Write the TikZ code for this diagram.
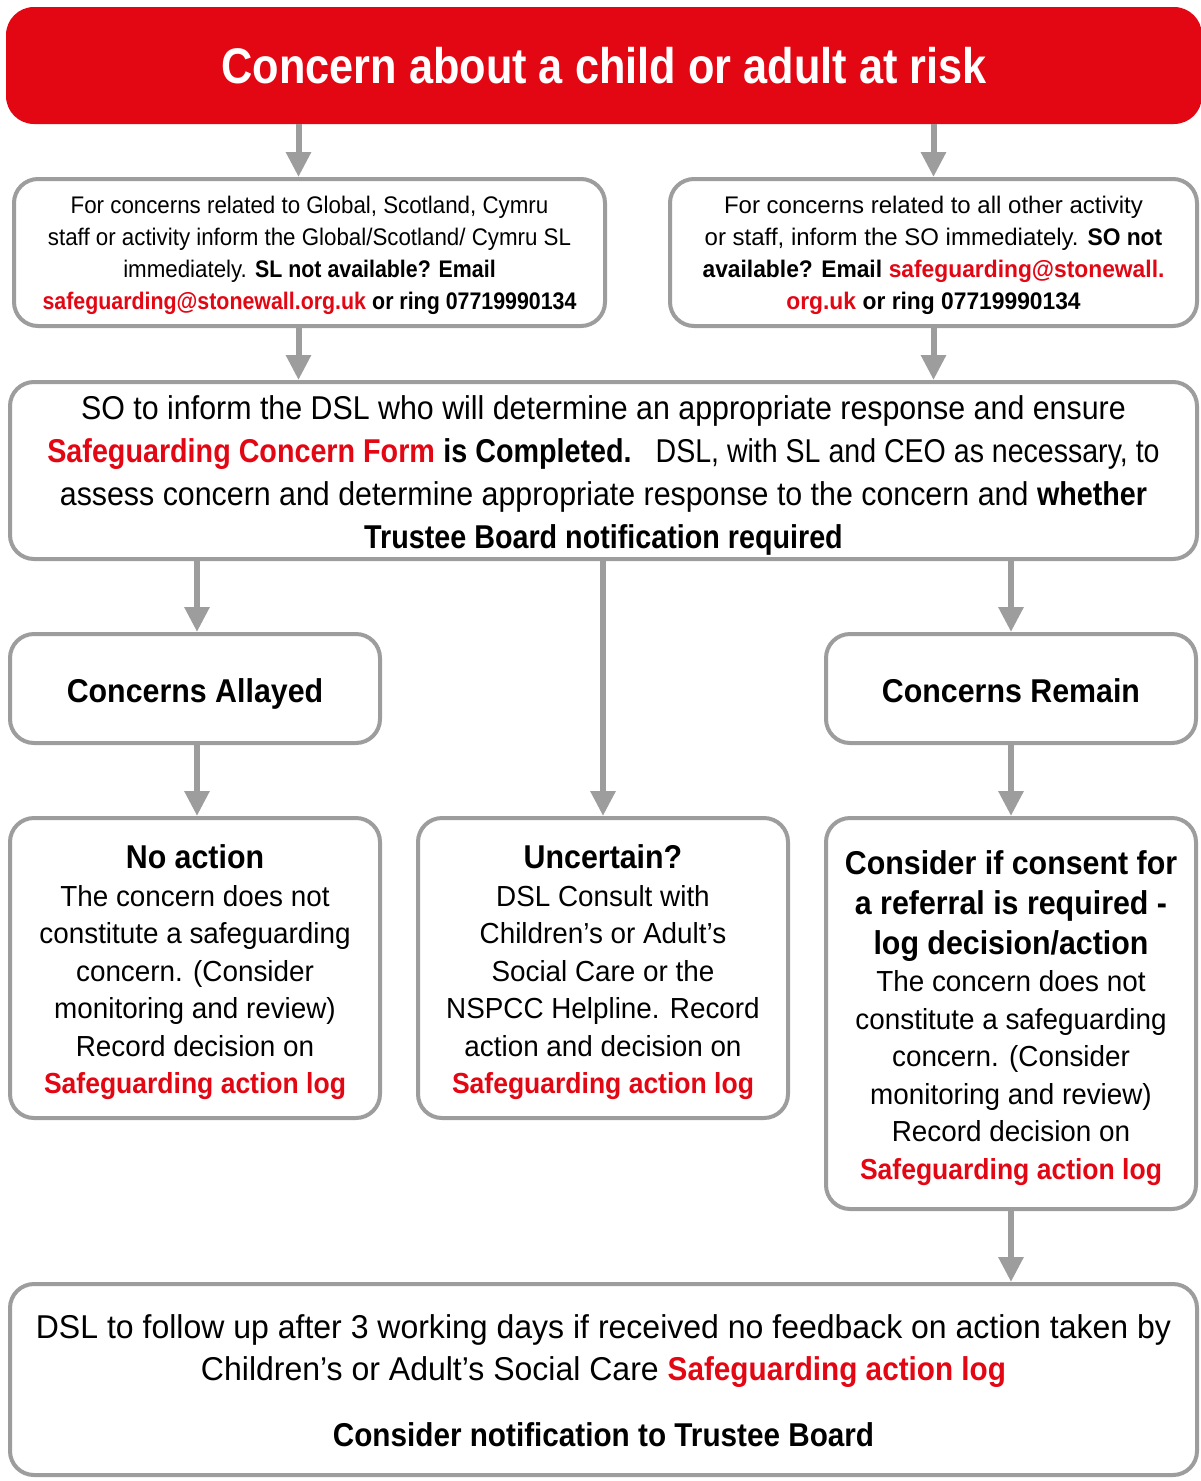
\documentclass[tikz,border=0pt]{standalone}
\usepackage{fontspec}
\setmainfont{Liberation Sans}
\newfontfamily\tT{Liberation Sans Bold}[FakeStretch=0.866]
\newfontfamily\rL{Liberation Sans}[FakeStretch=0.93]
\newfontfamily\bL{Liberation Sans Bold}[FakeStretch=0.89]
\newfontfamily\rR{Liberation Sans}[FakeStretch=1.0]
\newfontfamily\bR{Liberation Sans Bold}[FakeStretch=0.95]
\newfontfamily\rD{Liberation Sans}[FakeStretch=0.92]
\newfontfamily\rDn{Liberation Sans}[FakeStretch=0.865]
\newfontfamily\bD{Liberation Sans Bold}[FakeStretch=0.87]
\newfontfamily\rM{Liberation Sans}[FakeStretch=0.96]
\newfontfamily\bM{Liberation Sans Bold}[FakeStretch=0.914]
\newfontfamily\bH{Liberation Sans Bold}[FakeStretch=0.92]
\newfontfamily\rB{Liberation Sans}[FakeStretch=0.97]
\newfontfamily\bB{Liberation Sans Bold}[FakeStretch=0.90]
\usetikzlibrary{arrows.meta}
\definecolor{sred}{HTML}{E30613}
\definecolor{sgray}{HTML}{9D9D9D}
\begin{document}
\begin{tikzpicture}[x=1pt,y=-1pt,
  box/.style={draw=sgray, line width=4pt, rounded corners=24pt, fill=white, inner sep=0pt},
  txt/.style={align=center, inner sep=0pt},
  arr/.style={draw=sgray, line width=6pt, -{Triangle[width=24pt,length=25pt]}},
  fontL/.style={font=\rL\fontsize{24}{32}\selectfont},
  fontR/.style={font=\rR\fontsize{24}{32}\selectfont},
  fontD/.style={font=\rD\fontsize{33}{43}\selectfont},
  fontM/.style={font=\rM\fontsize{29}{37.5}\selectfont},
  fontB/.style={font=\rB\fontsize{33}{42}\selectfont}]
\useasboundingbox (0,0) rectangle (1201,1481);

% ---------- boxes ----------
\node[fill=sred, rounded corners=28pt, inner sep=0pt, minimum width=1196pt, minimum height=117pt,
  text=white, font=\tT\fontsize{50}{60}\selectfont] (title) at (604,65.5)
  {Concern about a child or adult at risk};
\node[box, minimum width=591pt, minimum height=147pt] (l1) at (309.5,252.5) {};
\node[box, minimum width=527pt, minimum height=147pt] (r1) at (933.5,252.5) {};
\node[box, minimum width=1187pt, minimum height=177pt] (dsl) at (603.5,470.5) {};
\node[box, minimum width=370pt, minimum height=109pt] (allay) at (195,688.5) {};
\node[box, minimum width=370pt, minimum height=109pt] (remain) at (1011,688.5) {};
\node[box, minimum width=370pt, minimum height=300pt] (noact) at (195,968) {};
\node[box, minimum width=370pt, minimum height=300pt] (unc) at (603,968) {};
\node[box, minimum width=370pt, minimum height=391pt] (cons) at (1011,1013.5) {};
\node[box, minimum width=1187pt, minimum height=191pt] (bot) at (603.5,1379.5) {};

% ---------- texts ----------
\node[txt, fontL] (l1t) at ([yshift=-3pt]l1.center)
  {For concerns related to Global, Scotland, Cymru\\
   staff or activity inform the Global/Scotland/ Cymru SL\\
   immediately. {\bL SL not available? Email}\\
   {\bL\color{sred}safeguarding@stonewall.org.uk} {\bL or ring 07719990134}};

\node[txt, fontR] (r1t) at ([yshift=-3pt]r1.center)
  {For concerns related to all other activity\\
   or staff, inform the SO immediately. {\bR SO not}\\
   {\bR available? Email} {\bR\color{sred}safeguarding@stonewall.}\\
   {\bR\color{sred}org.uk} {\bR or ring 07719990134}};

\node[txt, fontD] (dslt) at ([yshift=-5pt]dsl.center)
  {SO to inform the DSL who will determine an appropriate response and ensure\\
   {\bD\color{sred}Safeguarding Concern Form} {\bD is Completed.}\hspace{24pt}{\rDn DSL, with SL and CEO as necessary, to}\\
   assess concern and determine appropriate response to the concern and {\bD whether}\\
   {\bD Trustee Board notification required}};

\node[txt, anchor=base, font=\bH\fontsize{33}{40}\selectfont] (allayt) at (195,702) {Concerns Allayed};
\node[txt, anchor=base, font=\bH\fontsize{33}{40}\selectfont] (remaint) at (1011,702) {Concerns Remain};

\node[txt, fontM] (noactt) at ([yshift=-4.5pt]noact.center)
  {{\bH\fontsize{33}{40}\selectfont No action}\\
   The concern does not\\
   constitute a safeguarding\\
   concern. (Consider\\
   monitoring and review)\\
   Record decision on\\
   {\bM\color{sred}Safeguarding action log}};

\node[txt, fontM] (unct) at ([yshift=-4.5pt]unc.center)
  {{\bH\fontsize{33}{40}\selectfont Uncertain?}\\
   DSL Consult with\\
   Children’s or Adult’s\\
   Social Care or the\\
   NSPCC Helpline. Record\\
   action and decision on\\
   {\bM\color{sred}Safeguarding action log}};

\node[txt, fontM] (const) at ([yshift=-4.5pt]cons.center)
  {{\bH\fontsize{33}{40}\selectfont Consider if consent for}\\[2.5pt]
   {\bH\fontsize{33}{40}\selectfont a referral is required -}\\[2.5pt]
   {\bH\fontsize{33}{40}\selectfont log decision/action}\\
   The concern does not\\
   constitute a safeguarding\\
   concern. (Consider\\
   monitoring and review)\\
   Record decision on\\
   {\bM\color{sred}Safeguarding action log}};

\node[txt, fontB] (bott) at ([yshift=-1.5pt]bot.center)
  {DSL to follow up after 3 working days if received no feedback on action taken by\\
   Children’s or Adult’s Social Care {\bB\color{sred}Safeguarding action log}\\[24pt]
   {\bB Consider notification to Trustee Board}};

% ---------- connectors ----------
\draw[arr] ([xshift=-11pt]l1.north |- title.south) -- ([xshift=-11pt]l1.north);
\draw[arr] (r1.north |- title.south) -- (r1.north);
\draw[arr] ([xshift=-11pt]l1.south) -- ([xshift=-11pt]l1.south |- dsl.north);
\draw[arr] (r1.south) -- (r1.south |- dsl.north);
\draw[arr] ([xshift=2pt]allay.north |- dsl.south) -- ([xshift=2pt]allay.north);
\draw[arr] (unc.north |- dsl.south) -- (unc.north);
\draw[arr] (remain.north |- dsl.south) -- (remain.north);
\draw[arr] ([xshift=2pt]allay.south) -- ([xshift=2pt]noact.north);
\draw[arr] (remain.south) -- (cons.north);
\draw[arr] (cons.south) -- (cons.south |- bot.north);
\end{tikzpicture}
\end{document}
